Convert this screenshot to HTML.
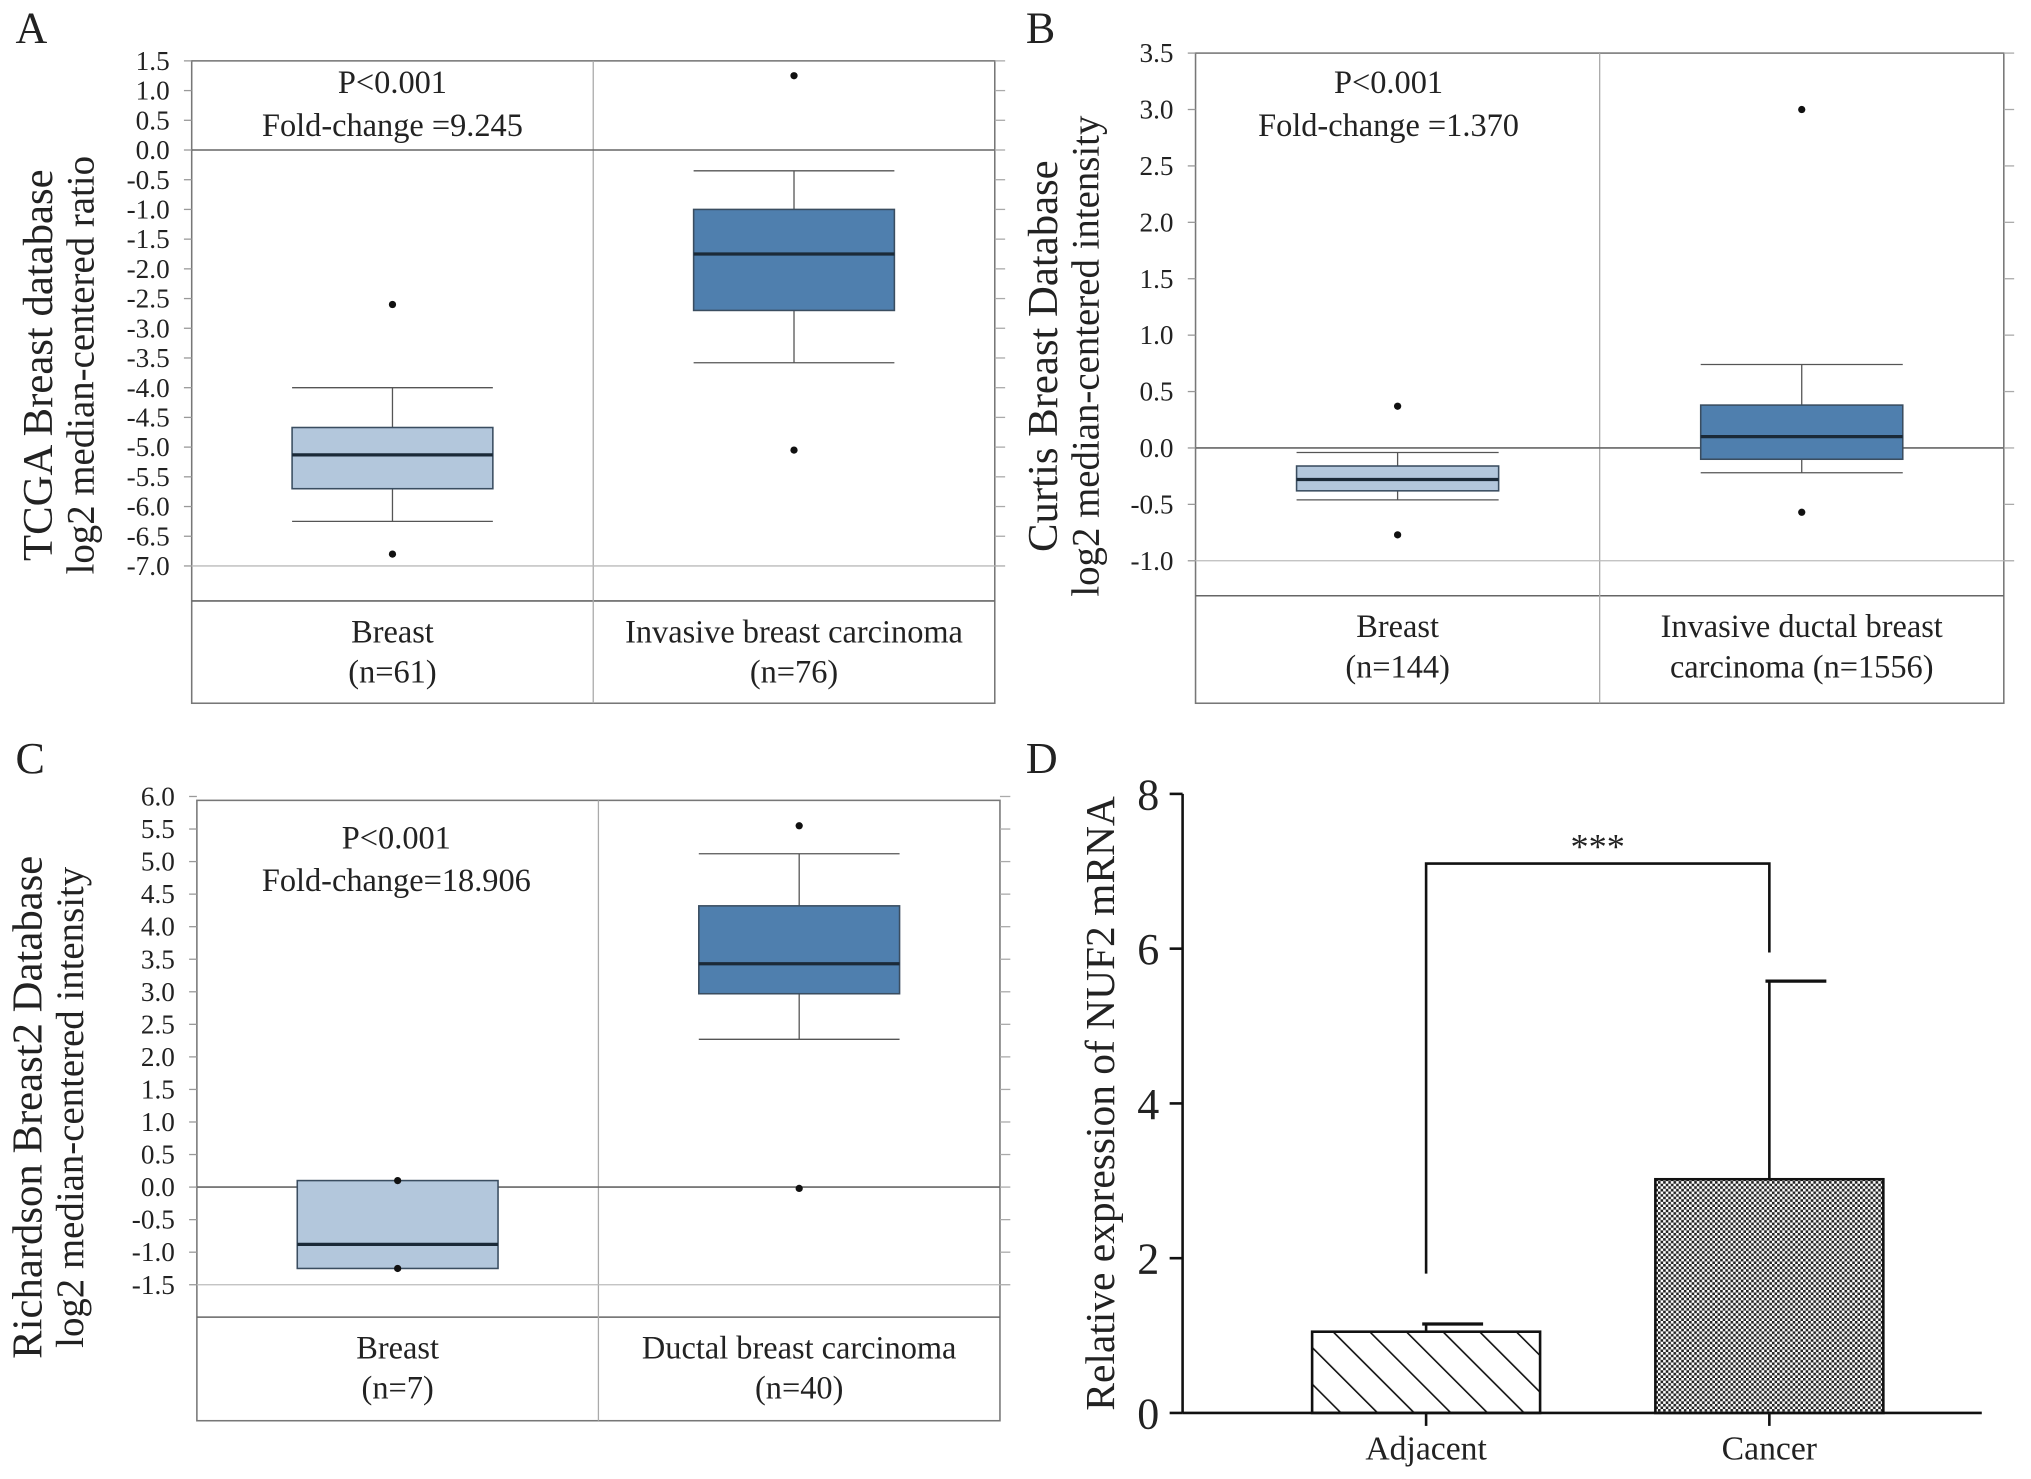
<!DOCTYPE html>
<html><head><meta charset="utf-8"><style>
html,body{margin:0;padding:0;background:#fff}
svg{display:block}
text{font-family:"Liberation Serif",serif;fill:#222}
</style></head><body>
<svg id="fig" width="2031" height="1479" viewBox="0 0 1568 1142" preserveAspectRatio="none" xmlns="http://www.w3.org/2000/svg">
<rect width="1568" height="1142" fill="#fff"/>
<g id="layer"></g>
</svg>
<script>
// ---- Panel A data ----
const aTicks=[1.5,1.0,0.5,0.0,-0.5,-1.0,-1.5,-2.0,-2.5,-3.0,-3.5,-4.0,-4.5,-5.0,-5.5,-6.0,-6.5,-7.0];
const aCats=[["Breast","(n=61)"],["Invasive breast carcinoma","(n=76)"]];
const aQ3=[-4.67,-1.0], aQ1=[-5.7,-2.7], aMed=[-5.13,-1.75], aWhiHi=[-4.0,-0.35], aWhiLo=[-6.25,-3.58];
const aOut=[[-2.6,-6.8],[1.25,-5.05]];
// ---- Panel B data ----
const bTicks=[3.5,3.0,2.5,2.0,1.5,1.0,0.5,0.0,-0.5,-1.0];
const bCats=[["Breast","(n=144)"],["Invasive ductal breast","carcinoma (n=1556)"]];
const bQ3=[-0.16,0.38], bQ1=[-0.38,-0.1], bMed=[-0.28,0.1], bWhiHi=[-0.04,0.74], bWhiLo=[-0.46,-0.22];
const bOut=[[0.37,-0.77],[3.0,-0.57]];
// ---- Panel C data ----
const cTicks=[6.0,5.5,5.0,4.5,4.0,3.5,3.0,2.5,2.0,1.5,1.0,0.5,0.0,-0.5,-1.0,-1.5];
const cCats=[["Breast","(n=7)"],["Ductal breast carcinoma","(n=40)"]];
const cQ3=[0.1,4.32], cQ1=[-1.25,2.97], cMed=[-0.88,3.43], cWhiHi=[null,5.12], cWhiLo=[null,2.27];
const cOut=[[0.1,-1.25],[5.55,-0.02]];
// ---- Panel D data ----
const dCats=["Adjacent","Cancer"];
const dVals=[1.05,3.02];
const dErr=[0.1,2.56];
const dTicks=[0,2,4,6,8];

const NS="http://www.w3.org/2000/svg";
const layer=document.getElementById('layer');
function el(tag,attrs,parent,txt){const e=document.createElementNS(NS,tag);for(const k in attrs)e.setAttribute(k,attrs[k]);if(txt!==undefined)e.textContent=txt;(parent||layer).appendChild(e);return e;}

function boxPanel(cfg){
  const g=el('g',{});
  
  
  const y=v=>cfg.y0+(cfg.tmax-v)/(cfg.tmax-cfg.tmin)*(cfg.y1-cfg.y0);
  el('rect',{x:cfg.L,y:cfg.T,width:cfg.R-cfg.L,height:cfg.B-cfg.T,fill:'none',stroke:'#777','stroke-width':1.2},g);
  el('line',{x1:cfg.L,x2:cfg.R,y1:cfg.D,y2:cfg.D,stroke:'#666','stroke-width':1.2},g);
  el('line',{x1:cfg.M,x2:cfg.M,y1:cfg.T,y2:cfg.B,stroke:'#aaa','stroke-width':1},g);
  el('line',{x1:cfg.L,x2:cfg.R,y1:y(0),y2:y(0),stroke:'#666','stroke-width':1.2},g);
  el('line',{x1:cfg.L,x2:cfg.R,y1:y(cfg.tmin),y2:y(cfg.tmin),stroke:'#bbb','stroke-width':1},g);
  cfg.ticks.forEach(t=>{
    const tl=el('text',{x:cfg.L-17,y:y(t)+7,'text-anchor':'end','font-size':21},g,t.toFixed(1));
    
    
    el('line',{x1:cfg.L-6,x2:cfg.L,y1:y(t),y2:y(t),stroke:'#999'},g);
    el('line',{x1:cfg.R,x2:cfg.R+8,y1:y(t),y2:y(t),stroke:'#aaa'},g);
  });
  const cx=[(cfg.L+cfg.M)/2,(cfg.M+cfg.R)/2];
  const hw=(cfg.M-cfg.L)*0.25;
  const fills=['#b3c7dc','#4f7fae'];
  for(let i=0;i<2;i++){
    const bg=el('g',{},g);
    
    
    if(cfg.whiHi[i]!=null){
      el('line',{x1:cx[i],x2:cx[i],y1:y(cfg.whiHi[i]),y2:y(cfg.q3[i]),stroke:'#555'},bg);
      el('line',{x1:cx[i],x2:cx[i],y1:y(cfg.q1[i]),y2:y(cfg.whiLo[i]),stroke:'#555'},bg);
      el('line',{x1:cx[i]-hw,x2:cx[i]+hw,y1:y(cfg.whiHi[i]),y2:y(cfg.whiHi[i]),stroke:'#555'},bg);
      el('line',{x1:cx[i]-hw,x2:cx[i]+hw,y1:y(cfg.whiLo[i]),y2:y(cfg.whiLo[i]),stroke:'#555'},bg);
    }
    el('rect',{x:cx[i]-hw,y:y(cfg.q3[i]),width:2*hw,height:y(cfg.q1[i])-y(cfg.q3[i]),fill:fills[i],stroke:'#3a4d60','stroke-width':1.2},bg);
    el('line',{x1:cx[i]-hw,x2:cx[i]+hw,y1:y(cfg.med[i]),y2:y(cfg.med[i]),stroke:'#1b2a38','stroke-width':2.5},bg);
    cfg.out[i].forEach(o=>{
      const d=el('circle',{cx:cx[i],cy:y(o),r:2.8,fill:'#111'},bg);
      
      
    });
    const l1=el('text',{x:cx[i],y:cfg.D+32,'text-anchor':'middle','font-size':25},g,cfg.cats[i][0]);
    
    
    el('text',{x:cx[i],y:cfg.D+63,'text-anchor':'middle','font-size':25},g,cfg.cats[i][1]);
  }
  const p=el('text',{x:cfg.pX,y:cfg.pY,'text-anchor':'middle','font-size':25},g,'P<0.001');
  
  
  el('text',{x:cfg.pX,y:cfg.pY+33,'text-anchor':'middle','font-size':25},g,cfg.fold);
  const tx=el('text',{transform:`translate(${cfg.tX},${cfg.tY}) rotate(-90)`,'text-anchor':'middle','font-size':33},g,cfg.t1);
  
  
  el('text',{transform:`translate(${cfg.tX+32},${cfg.tY}) rotate(-90)`,'text-anchor':'middle','font-size':30},g,cfg.t2);
  el('text',{x:cfg.lx,y:cfg.ly,'font-size':34},g,cfg.letter);
}

boxPanel({name:'panel-a',L:148,R:768,T:47,D:464,B:543,M:458,y0:47,y1:437,tmax:1.5,tmin:-7.0,ticks:aTicks,cats:aCats,
  q3:aQ3,q1:aQ1,med:aMed,whiHi:aWhiHi,whiLo:aWhiLo,out:aOut,pX:303,pY:72,fold:'Fold-change =9.245',
  t1:'TCGA Breast database',t2:'log2 median-centered ratio',tX:40,tY:282,letter:'A',lx:12,ly:33});
boxPanel({name:'panel-b',L:923,R:1547,T:41,D:460,B:543,M:1235,y0:41,y1:433,tmax:3.5,tmin:-1.0,ticks:bTicks,cats:bCats,
  q3:bQ3,q1:bQ1,med:bMed,whiHi:bWhiHi,whiLo:bWhiLo,out:bOut,pX:1072,pY:72,fold:'Fold-change =1.370',
  t1:'Curtis Breast Database',t2:'log2 median-centered intensity',tX:816,tY:275,letter:'B',lx:792,ly:33});
boxPanel({name:'panel-c',L:152,R:772,T:618,D:1017,B:1097,M:462,y0:615,y1:992,tmax:6.0,tmin:-1.5,ticks:cTicks,cats:cCats,
  q3:cQ3,q1:cQ1,med:cMed,whiHi:cWhiHi,whiLo:cWhiLo,out:cOut,pX:306,pY:655,fold:'Fold-change=18.906',
  t1:'Richardson Breast2 Database',t2:'log2 median-centered intensity',tX:32,tY:855,letter:'C',lx:12,ly:597});

// Panel D
(function(){
  const g=el('g',{});
  
  
  const X0=913, Y0=1091, Ytop=613;
  const y=v=>Y0-(v-0)/(8-0)*(Y0-Ytop);
  const cx=[1101,1366], hw=88;
  el('text',{x:792,y:597,'font-size':34},g,'D');
  el('line',{x1:X0,x2:X0,y1:Ytop,y2:Y0,stroke:'#111','stroke-width':2},g);
  el('line',{x1:X0,x2:1530,y1:Y0,y2:Y0,stroke:'#111','stroke-width':2},g);
  dTicks.forEach(t=>{
    el('line',{x1:X0-10,x2:X0,y1:y(t),y2:y(t),stroke:'#111','stroke-width':2},g);
    const tl=el('text',{x:X0-18,y:y(t)+12,'text-anchor':'end','font-size':34},g,String(t));
    
    
  });
  const defs=el('defs',{},g);
  const p1=el('pattern',{id:'hatch',patternUnits:'userSpaceOnUse',width:20,height:20,patternTransform:'rotate(-45)'},defs);
  el('line',{x1:0,y1:0,x2:0,y2:20,stroke:'#111','stroke-width':2.5},p1);
  const p2=el('pattern',{id:'check',patternUnits:'userSpaceOnUse',width:4,height:4},defs);
  el('rect',{width:4,height:4,fill:'#fff'},p2);
  el('rect',{width:2,height:2,fill:'#222'},p2);
  el('rect',{x:2,y:2,width:2,height:2,fill:'#222'},p2);
  const fills=['url(#hatch)','url(#check)'];
  dCats.forEach((c,i)=>{
    el('line',{x1:cx[i],x2:cx[i],y1:y(dVals[i]),y2:y(dVals[i]+dErr[i]),stroke:'#111','stroke-width':2},g);
    el('line',{x1:cx[i]-3,x2:cx[i]+hw*0.5,y1:y(dVals[i]+dErr[i]),y2:y(dVals[i]+dErr[i]),stroke:'#111','stroke-width':2.5},g);
    const b=el('rect',{x:cx[i]-hw,y:y(dVals[i]),width:2*hw,height:Y0-y(dVals[i]),fill:fills[i],stroke:'#111','stroke-width':2},g);
    
    
    el('line',{x1:cx[i],x2:cx[i],y1:Y0,y2:Y0+10,stroke:'#111','stroke-width':2},g);
    const l=el('text',{x:cx[i],y:Y0+36,'text-anchor':'middle','font-size':26},g,c);
    
    
  });
  const bracket=el('polyline',{points:`${cx[0]},${y(1.8)} ${cx[0]},${y(7.1)} ${cx[1]},${y(7.1)} ${cx[1]},${y(5.95)}`,fill:'none',stroke:'#111','stroke-width':2},g);
  
  
  el('text',{x:(cx[0]+cx[1])/2,y:y(7.1)-4,'text-anchor':'middle','font-size':28},g,'***');
  const t=el('text',{transform:`translate(860,852) rotate(-90)`,'text-anchor':'middle','font-size':32},g,'Relative expression of NUF2 mRNA');
  
  
})();
</script>
</body></html>
